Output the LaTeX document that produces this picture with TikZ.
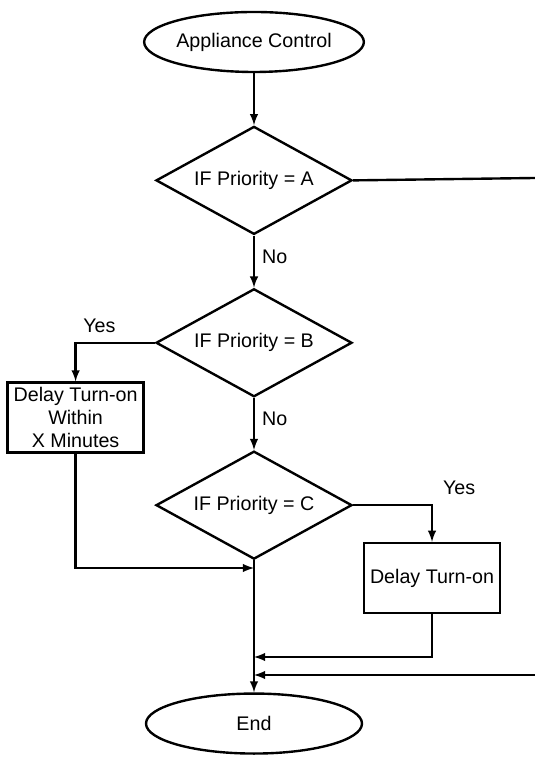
\documentclass[tikz,border=0pt]{standalone}
\usepackage{fontspec}
\setmainfont{Liberation Sans}
\usepackage{tikz}
\usetikzlibrary{shapes.geometric,positioning,arrows}
\tikzstyle{terminal} = [ellipse, minimum width=5.4cm, minimum height=1.5cm, inner sep=0pt, text centered, draw=black, line width=1.7pt]
\tikzstyle{decision} = [diamond, aspect=1.8, minimum width=4.9cm, minimum height=2.7cm, inner sep=0pt, text centered, draw=black, line width=1.7pt]
\tikzstyle{process} = [rectangle, minimum width=3.4cm, minimum height=1.75cm, inner sep=2pt, align=center, draw=black, line width=1.7pt]
\tikzstyle{arrow} = [line width=1.7pt,->,>=latex]
\tikzstyle{line} = [line width=1.7pt]
\tikzset{
 lbl/.style
  = {inner sep=1pt},
}

\begin{document}
\begin{tikzpicture}[node distance=1.3cm, font=\fontsize{14pt}{16.5pt}\selectfont]
\useasboundingbox (0,0) rectangle (13.375,19);
\node (start) [terminal] at (6.35,17.95) {Appliance Control};
\node (prioA) [decision, below=of start] {IF Priority = A};
\node (prioB) [decision, below=of prioA] {IF Priority = B};
\node (prioC) [decision, below=of prioB] {IF Priority = C};
\node (delayX) [process] at (1.89,8.56) {Delay Turn-on\\Within\\X Minutes};
\node (delay) [process] at (10.8,4.55) {Delay Turn-on};
\node (stop) [terminal, below=3.3cm of prioC] {End};
\coordinate (outA) at (13.375,14.55);
\coordinate (inA) at (13.375,2.125);
\coordinate (joinX) at (6.35,4.8);
\coordinate (joinC) at (6.35,2.575);
\coordinate (joinA) at (6.35,2.125);
\draw [arrow] (start) -- (prioA);
\draw [line] (prioA.east) -- (outA);
\draw [arrow] (prioA) -- node[lbl, right, pos=0.4, xshift=4pt] {No} (prioB);
\draw [arrow] (prioB.west) -| node[lbl, above, pos=0.35, yshift=5pt] {Yes} (delayX.north);
\draw [arrow] (prioB) -- node[lbl, right, pos=0.4, xshift=4pt] {No} (prioC);
\draw [arrow] (prioC.east) -| node[lbl, right, pos=0.5, xshift=6pt, yshift=12pt] {Yes} (delay.north);
\draw [arrow] (delayX.south) |- (joinX);
\draw [arrow] (delay.south) |- (joinC);
\draw [arrow] (inA) -- (joinA);
\draw [arrow] (prioC) -- (stop);
\end{tikzpicture}
\end{document}
